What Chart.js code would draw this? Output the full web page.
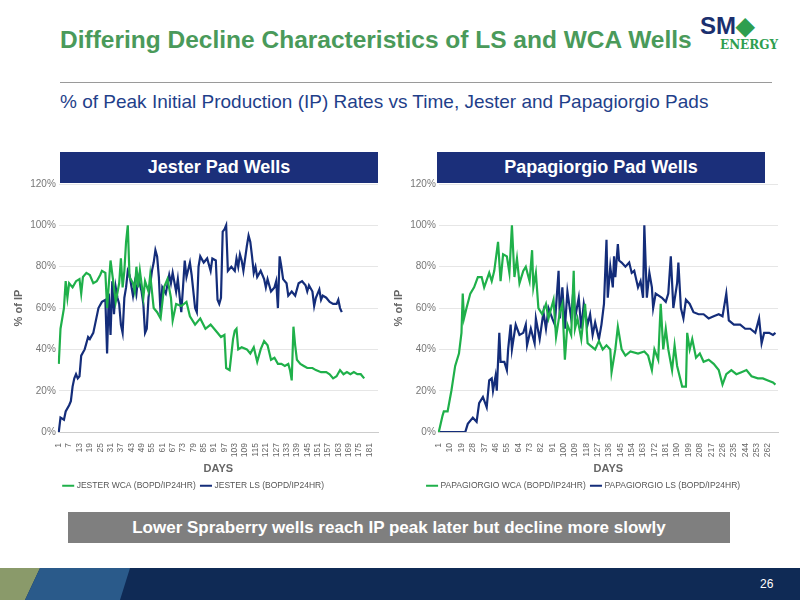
<!DOCTYPE html>
<html>
<head>
<meta charset="utf-8">
<script src="https://cdn.jsdelivr.net/npm/chart.js@4.4.0/dist/chart.umd.min.js"></script>
<style>
  body { margin:0; width:800px; height:600px; position:relative; overflow:hidden; background:#fff; font-family:"Liberation Sans", Arial, sans-serif; }
  .abs { position:absolute; }
  #titulo { left:60px; top:26px; font-size:24.5px; font-weight:bold; color:#4a9a5a; }
  #linea { left:60px; top:82px; width:712px; height:1px; background:#9a9a9a; }
  #sub { left:60px; top:91px; font-size:19px; color:#1f3f8a; }
  #logo { left:700px; top:12px; color:#1b2f6e; font-weight:bold; font-size:24px; }
  #logo2 { left:720px; top:38px; color:#2e9e4f; font-weight:bold; font-size:12px; font-family:"DejaVu Serif", serif; }
  .banner { background:#1b2f7a; color:#fff; font-weight:bold; font-size:18px; text-align:center; line-height:31px; height:31px; }
  #caja { left:68px; top:512px; width:662px; height:31px; background:#7f7f7f; color:#fff; font-weight:bold; font-size:17px; text-align:center; line-height:31px; }
  #pie { left:0; top:568px; width:800px; height:32px; background:#0f2a55; }
  #num { left:760px; top:577px; color:#fff; font-size:12px; }
</style>
</head>
<body>
<div class="abs" id="titulo">Differing Decline Characteristics of LS and WCA Wells</div>
<div class="abs" id="logo">SM<span style="color:#2e9e4f">◆</span></div>
<div class="abs" id="logo2">ENERGY</div>
<div class="abs" id="linea"></div>
<div class="abs" id="sub">% of Peak Initial Production (IP) Rates vs Time, Jester and Papagiorgio Pads</div>

<canvas class="abs" id="grafico_jester" style="left:10px;top:150px;width:380px;height:350px"></canvas>
<canvas class="abs" id="grafico_papa" style="left:390px;top:150px;width:400px;height:350px"></canvas>
<div class="abs banner" style="left:60px;top:152px;width:318px">Jester Pad Wells</div>
<div class="abs banner" style="left:437px;top:152px;width:328px">Papagiorgio Pad Wells</div>

<div class="abs" id="caja">Lower Spraberry wells reach IP peak later but decline more slowly</div>
<div class="abs" id="pie"></div>
<svg class="abs" style="left:0;top:560px" width="130" height="40">
  <polygon points="0,8 40,8 25,40 0,40" fill="#8a9a6a"/>
  <polygon points="40,8 130,8 120,40 25,40" fill="#2a5a8a"/>
</svg>
<div class="abs" id="num">26</div>

<script>
// [dia, %]
const jesterWCA = [[1,33],[2,50],[4,60],[5,73],[6,65],[7,72],[9,70],[11,73],[13,74],[14,67],[15,75],[17,77],[19,76],[21,72],[23,73],[25,76],[26,78],[28,77],[29,60],[31,83],[33,70],[34,63],[36,72],[37,84],[38,70],[39,78],[40,92],[41,100],[42,75],[44,72],[45,68],[46,80],[47,70],[48,78],[50,65],[51,73],[53,68],[54,76],[56,60],[58,58],[60,55],[62,70],[64,74],[66,65],[67,54],[69,62],[72,61],[75,63],[77,56],[80,52],[83,55],[86,50],[89,52],[92,49],[95,46],[97,47],[98,31],[100,30],[102,45],[103,49],[104,50],[105,40],[107,41],[110,40],[112,38],[114,41],[116,34],[118,40],[120,44],[122,42],[124,35],[126,36],[128,33],[130,33],[132,32],[134,33],[135,30],[136,25],[137,51],[138,42],[139,35],[141,33],[143,32],[145,31],[148,31],[150,30],[153,29],[156,29],[158,28],[160,26],[162,27],[164,30],[166,28],[168,29],[170,28],[172,29],[174,28],[176,28],[178,26]];
const jesterLS = [[1,0],[2,7],[4,6],[5,10],[7,13],[8,15],[9,22],[10,26],[11,28],[12,26],[13,27],[14,37],[16,40],[18,46],[19,45],[21,48],[22,52],[24,60],[26,63],[28,64],[29,38],[30,67],[31,47],[32,73],[33,57],[34,70],[35,65],[36,62],[37,52],[38,48],[39,65],[40,70],[41,78],[42,76],[44,66],[45,72],[46,67],[47,75],[49,68],[50,62],[51,48],[52,50],[53,65],[55,78],[56,82],[57,88],[58,85],[59,75],[60,57],[61,70],[63,67],[65,76],[66,72],[67,77],[69,68],[70,74],[72,58],[73,70],[74,83],[75,75],[77,82],[78,76],[80,60],[81,58],[82,80],[83,85],[85,82],[87,84],[89,78],[90,84],[92,83],[93,64],[94,62],[95,65],[96,97],[97,98],[98,100],[99,78],[101,80],[103,78],[104,84],[105,80],[106,86],[107,83],[108,78],[110,90],[111,95],[112,92],[113,85],[114,77],[115,80],[116,75],[118,78],[120,74],[121,70],[122,74],[124,68],[126,70],[127,73],[128,60],[129,85],[130,80],[131,74],[133,72],[134,66],[136,68],[138,66],[140,72],[142,73],[144,71],[145,68],[146,71],[148,68],[149,61],[150,65],[152,69],[153,64],[154,66],[156,65],[158,63],[160,62],[162,62],[163,64],[164,60],[165,58]];
const papaWCA = [[1,0],[4,8],[5,10],[8,10],[11,20],[14,32],[17,38],[19,48],[20,67],[21,55],[23,60],[26,67],[29,70],[32,75],[35,75],[37,70],[41,77],[43,73],[45,78],[48,92],[50,73],[52,86],[55,85],[57,77],[59,100],[61,75],[63,84],[65,72],[68,78],[70,80],[73,73],[75,88],[76,70],[78,77],[80,60],[83,57],[86,62],[88,55],[92,64],[94,46],[97,58],[99,62],[101,35],[103,52],[106,47],[108,78],[109,50],[111,55],[114,45],[117,62],[119,43],[121,42],[125,40],[128,44],[131,40],[134,42],[137,40],[138,29],[141,40],[143,51],[146,40],[149,37],[153,39],[159,38],[164,39],[167,37],[170,30],[172,40],[175,35],[177,62],[179,40],[181,50],[183,40],[186,30],[188,42],[190,32],[194,22],[197,22],[198,48],[200,40],[202,45],[205,36],[208,38],[211,34],[215,35],[219,33],[223,30],[226,23],[229,28],[233,30],[237,28],[241,29],[245,30],[249,27],[254,26],[258,26],[262,25],[266,24],[268,23]];
const papaLS = [[1,0],[22,0],[24,4],[28,7],[31,5],[33,14],[36,17],[39,12],[41,25],[43,26],[44,20],[46,27],[47,20],[49,48],[50,34],[53,34],[55,30],[56,40],[58,52],[59,40],[62,52],[65,47],[68,48],[70,52],[71,42],[74,50],[77,43],[78,55],[81,45],[84,58],[86,50],[88,60],[91,55],[93,52],[96,78],[97,55],[99,70],[101,50],[103,68],[106,55],[108,71],[109,55],[112,65],[114,50],[116,62],[119,52],[121,57],[123,47],[125,53],[128,45],[130,52],[132,62],[134,93],[135,65],[137,80],[139,70],[140,85],[141,75],[143,91],[144,83],[146,82],[149,80],[152,82],[154,77],[156,78],[159,70],[161,73],[163,65],[164,100],[166,65],[168,77],[170,70],[171,60],[173,67],[178,65],[181,63],[183,67],[185,85],[187,60],[190,72],[191,82],[193,60],[195,55],[197,64],[200,62],[203,58],[207,57],[211,57],[215,55],[219,56],[223,57],[226,56],[229,67],[231,54],[235,52],[240,52],[244,50],[248,50],[252,48],[255,55],[257,43],[259,48],[263,48],[266,47],[268,48]];

const diasJester = Array.from({length:186}, (_, i) => String(i + 1));
const diasPapa = Array.from({length:270}, (_, i) => String(i + 1));

function serie(pares, n) {
    let arr = new Array(n).fill(null);
    pares.forEach(p => { arr[p[0] - 1] = p[1]; });
    return arr;
}

function crearGrafico(id, labels, paso, wca, ls, nombreWCA, nombreLS) {
    const ctx = document.getElementById(id);
    return new Chart(ctx, {
        type: 'line',
        data: {
            labels: labels,
            datasets: [
                { label: nombreWCA, data: serie(wca, labels.length), borderColor: '#1fb04a', backgroundColor: '#1fb04a', borderWidth: 2.2, pointRadius: 0, spanGaps: true, tension: 0 },
                { label: nombreLS, data: serie(ls, labels.length), borderColor: '#142d7a', backgroundColor: '#142d7a', borderWidth: 2.2, pointRadius: 0, spanGaps: true, tension: 0 }
            ]
        },
        options: {
            responsive: false,
            animation: false,
            layout: { padding: { top: 34, right: 12 } },
            plugins: {
                legend: {
                    position: 'bottom',
                    labels: { usePointStyle: true, pointStyle: 'line', font: { size: 8.5 }, color: '#555', boxWidth: 30, padding: 6 }
                },
                tooltip: { enabled: false }
            },
            scales: {
                y: {
                    min: 0, max: 120,
                    ticks: { stepSize: 20, callback: v => v + '%', color: '#777', font: { size: 10 } },
                    grid: { color: '#e6e6e6', drawTicks: false },
                    border: { display: false },
                    title: { display: true, text: '% of IP', color: '#666', font: { size: 11, weight: 'bold' }, padding: 2 }
                },
                x: {
                    ticks: {
                        autoSkip: false, maxRotation: 90, minRotation: 90, color: '#666', font: { size: 8.5 },
                        callback: function (v, i) { return i % paso === 0 ? this.getLabelForValue(v) : null; }
                    },
                    grid: { display: false },
                    border: { color: '#ccc' },
                    title: { display: true, text: 'DAYS', color: '#666', font: { size: 11, weight: 'bold' }, padding: { top: 2, bottom: 0 } }
                }
            }
        }
    });
}

crearGrafico('grafico_jester', diasJester, 6, jesterWCA, jesterLS, 'JESTER WCA (BOPD/IP24HR)', 'JESTER LS (BOPD/IP24HR)');
crearGrafico('grafico_papa', diasPapa, 9, papaWCA, papaLS, 'PAPAGIORGIO WCA (BOPD/IP24HR)', 'PAPAGIORGIO LS (BOPD/IP24HR)');
</script>
</body>
</html>
